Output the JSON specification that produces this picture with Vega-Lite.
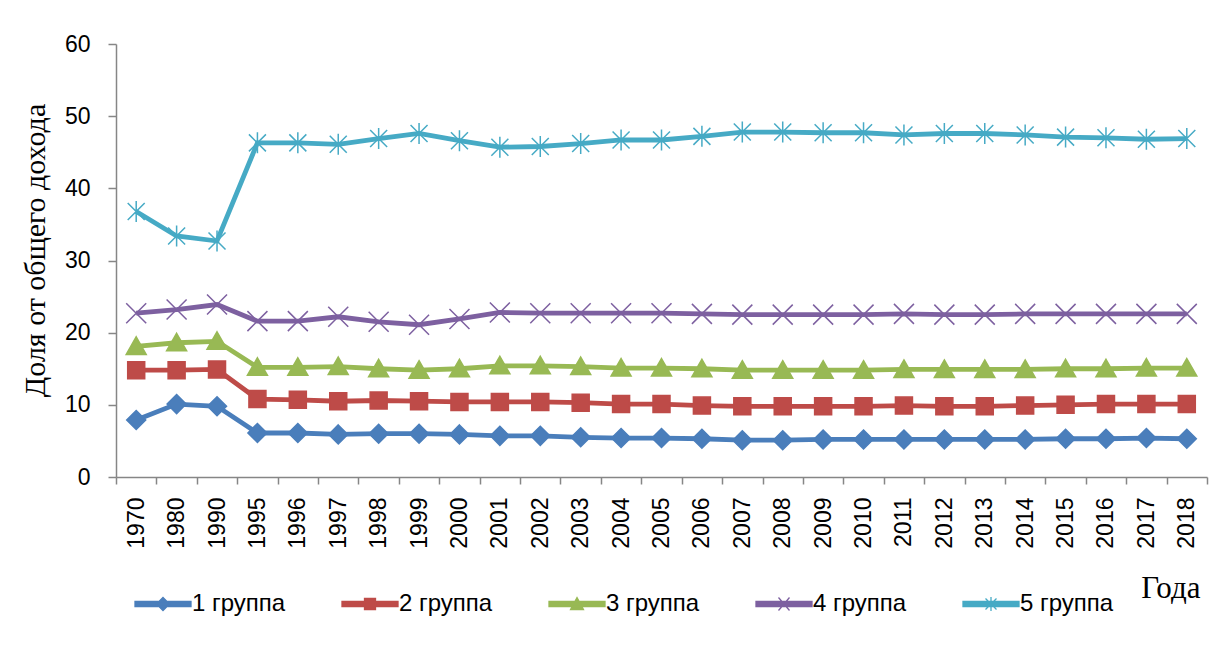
{
  "$schema": "https://vega.github.io/schema/vega-lite/v6.json",
  "autosize": "none",
  "width": 1091,
  "height": 433,
  "padding": {"left": 116, "top": 44, "right": 25, "bottom": 180},
  "background": "white",
  "config": {"view": {"stroke": null}},
  "data": {"values": [
    {"year": "1970", "1 группа": 7.9, "2 группа": 14.8, "3 группа": 18.1, "4 группа": 22.7, "5 группа": 36.8},
    {"year": "1980", "1 группа": 10.1, "2 группа": 14.8, "3 группа": 18.6, "4 группа": 23.2, "5 группа": 33.4},
    {"year": "1990", "1 группа": 9.8, "2 группа": 14.9, "3 группа": 18.8, "4 группа": 23.9, "5 группа": 32.7},
    {"year": "1995", "1 группа": 6.1, "2 группа": 10.8, "3 группа": 15.2, "4 группа": 21.6, "5 группа": 46.3},
    {"year": "1996", "1 группа": 6.1, "2 группа": 10.7, "3 группа": 15.2, "4 группа": 21.6, "5 группа": 46.3},
    {"year": "1997", "1 группа": 5.9, "2 группа": 10.5, "3 группа": 15.3, "4 группа": 22.2, "5 группа": 46.1},
    {"year": "1998", "1 группа": 6.0, "2 группа": 10.6, "3 группа": 15.0, "4 группа": 21.5, "5 группа": 46.9},
    {"year": "1999", "1 группа": 6.0, "2 группа": 10.5, "3 группа": 14.8, "4 группа": 21.1, "5 группа": 47.6},
    {"year": "2000", "1 группа": 5.9, "2 группа": 10.4, "3 группа": 15.0, "4 группа": 21.9, "5 группа": 46.6},
    {"year": "2001", "1 группа": 5.7, "2 группа": 10.4, "3 группа": 15.4, "4 группа": 22.8, "5 группа": 45.7},
    {"year": "2002", "1 группа": 5.7, "2 группа": 10.4, "3 группа": 15.4, "4 группа": 22.7, "5 группа": 45.8},
    {"year": "2003", "1 группа": 5.5, "2 группа": 10.3, "3 группа": 15.3, "4 группа": 22.7, "5 группа": 46.2},
    {"year": "2004", "1 группа": 5.4, "2 группа": 10.1, "3 группа": 15.1, "4 группа": 22.7, "5 группа": 46.7},
    {"year": "2005", "1 группа": 5.4, "2 группа": 10.1, "3 группа": 15.1, "4 группа": 22.7, "5 группа": 46.7},
    {"year": "2006", "1 группа": 5.3, "2 группа": 9.9, "3 группа": 15.0, "4 группа": 22.6, "5 группа": 47.2},
    {"year": "2007", "1 группа": 5.1, "2 группа": 9.8, "3 группа": 14.8, "4 группа": 22.5, "5 группа": 47.8},
    {"year": "2008", "1 группа": 5.1, "2 группа": 9.8, "3 группа": 14.8, "4 группа": 22.5, "5 группа": 47.8},
    {"year": "2009", "1 группа": 5.2, "2 группа": 9.8, "3 группа": 14.8, "4 группа": 22.5, "5 группа": 47.7},
    {"year": "2010", "1 группа": 5.2, "2 группа": 9.8, "3 группа": 14.8, "4 группа": 22.5, "5 группа": 47.7},
    {"year": "2011", "1 группа": 5.2, "2 группа": 9.9, "3 группа": 14.9, "4 группа": 22.6, "5 группа": 47.4},
    {"year": "2012", "1 группа": 5.2, "2 группа": 9.8, "3 группа": 14.9, "4 группа": 22.5, "5 группа": 47.6},
    {"year": "2013", "1 группа": 5.2, "2 группа": 9.8, "3 группа": 14.9, "4 группа": 22.5, "5 группа": 47.6},
    {"year": "2014", "1 группа": 5.2, "2 группа": 9.9, "3 группа": 14.9, "4 группа": 22.6, "5 группа": 47.4},
    {"year": "2015", "1 группа": 5.3, "2 группа": 10.0, "3 группа": 15.0, "4 группа": 22.6, "5 группа": 47.1},
    {"year": "2016", "1 группа": 5.3, "2 группа": 10.1, "3 группа": 15.0, "4 группа": 22.6, "5 группа": 47.0},
    {"year": "2017", "1 группа": 5.4, "2 группа": 10.1, "3 группа": 15.1, "4 группа": 22.6, "5 группа": 46.8},
    {"year": "2018", "1 группа": 5.3, "2 группа": 10.1, "3 группа": 15.1, "4 группа": 22.6, "5 группа": 46.9}
  ]},
  "transform": [
    {"fold": ["1 группа", "2 группа", "3 группа", "4 группа", "5 группа"], "as": ["group", "value"]}
  ],
  "encoding": {
    "x": {
      "field": "year", "type": "ordinal", "bandPosition": 0.5,
      "scale": {"type": "band", "paddingInner": 0, "paddingOuter": 0},
      "axis": {
        "title": "Года", "titleFont": "Liberation Serif", "titleFontSize": 31, "titleFontWeight": "normal",
        "titleColor": "black", "titleX": 1084, "titleY": 120, "titleAlign": "right", "titleBaseline": "alphabetic",
        "labelAngle": 270, "labelAlign": "right", "labelBaseline": "middle",
        "labelFont": "Liberation Sans", "labelFontSize": 23, "labelColor": "black", "labelPadding": 13,
        "tickBand": "extent", "tickSize": 7, "tickColor": "#868686", "tickWidth": 1.5,
        "domainColor": "#868686", "domainWidth": 1.5, "grid": false
      }
    },
    "y": {
      "field": "value", "type": "quantitative",
      "scale": {"domain": [0, 60], "nice": false},
      "axis": {
        "title": "Доля от общего дохода", "titleFont": "Liberation Serif", "titleFontSize": 30,
        "titleFontWeight": "normal", "titleColor": "black", "titlePadding": 14, "titleY": 206,
        "values": [0, 10, 20, 30, 40, 50, 60],
        "labelFont": "Liberation Sans", "labelFontSize": 23, "labelColor": "black", "labelPadding": 18,
        "tickSize": 8, "tickColor": "#868686", "tickWidth": 1.5,
        "domainColor": "#868686", "domainWidth": 1.5, "grid": false
      }
    },
    "color": {
      "field": "group", "type": "nominal",
      "scale": {
        "domain": ["1 группа", "2 группа", "3 группа", "4 группа", "5 группа"],
        "range": ["#4a7ebb", "#be4b48", "#98b954", "#7d60a0", "#46aac5"]
      },
      "legend": {
        "title": null, "orient": "none", "legendX": 35, "legendY": 548,
        "direction": "horizontal", "columns": 5, "columnPadding": 53, "gridAlign": "all",
        "padding": 0, "symbolSize": 100, "labelOffset": 17, "symbolStrokeWidth": 1.3, "symbolOpacity": 1,
        "symbolType": {"expr": "datum.value === '1 группа' ? 'M-5.6,-0.5H5.6V0.5H-5.6Z M0,-1.3L1.3,0L0,1.3L-1.3,0Z' : datum.value === '2 группа' ? 'M-5.6,-0.5H5.6V0.5H-5.6Z M-1.1,-1.1H1.1V1.1H-1.1Z' : datum.value === '3 группа' ? 'M-5.6,-0.5H5.6V0.5H-5.6Z M0,-1.3L1.3,1.1H-1.3Z' : datum.value === '4 группа' ? 'M-5.6,-0.5H5.6V0.5H-5.6Z M-1.1,-1.3L1.1,1.3M-1.1,1.3L1.1,-1.3' : 'M-5.6,-0.5H5.6V0.5H-5.6Z M-1.1,-1.1L1.1,1.1M-1.1,1.1L1.1,-1.1M0,-1.4V1.4'"},
        "symbolFillColor": {"expr": "scale('color', datum.value)"},
        "symbolStrokeColor": {"expr": "scale('color', datum.value)"},
        "labelFont": "Liberation Sans", "labelFontSize": 24, "labelColor": "black"
      }
    }
  },
  "layer": [
    {"mark": {"type": "line", "strokeWidth": 4.8}},
    {
      "transform": [{"filter": "datum.group === '1 группа'"}],
      "mark": {"type": "point", "filled": true, "opacity": 1, "size": 400, "stroke": "#4a7ebb", "strokeWidth": 1.5,
               "shape": "M0,-0.95L0.95,0L0,0.95L-0.95,0Z"}
    },
    {
      "transform": [{"filter": "datum.group === '2 группа'"}],
      "mark": {"type": "point", "filled": true, "opacity": 1, "size": 400, "stroke": "#be4b48", "strokeWidth": 1.5,
               "shape": "M-0.85,-0.85H0.85V0.85H-0.85Z"}
    },
    {
      "transform": [{"filter": "datum.group === '3 группа'"}],
      "mark": {"type": "point", "filled": true, "opacity": 1, "size": 400, "stroke": "#98b954", "strokeWidth": 1.5,
               "shape": "M0,-0.95L1,0.8H-1Z"}
    },
    {
      "transform": [{"filter": "datum.group === '4 группа'"}],
      "mark": {"type": "point", "filled": true, "opacity": 1, "size": 400, "stroke": "#7d60a0", "strokeWidth": 1.5,
               "shape": "M-1,-1L1,1M-1,1L1,-1"}
    },
    {
      "transform": [{"filter": "datum.group === '5 группа'"}],
      "mark": {"type": "point", "filled": true, "opacity": 1, "size": 400, "stroke": "#46aac5", "strokeWidth": 1.5,
               "shape": "M-0.85,-0.85L0.85,0.85M-0.85,0.85L0.85,-0.85M0,-1.05V1.05"}
    }
  ]
}
